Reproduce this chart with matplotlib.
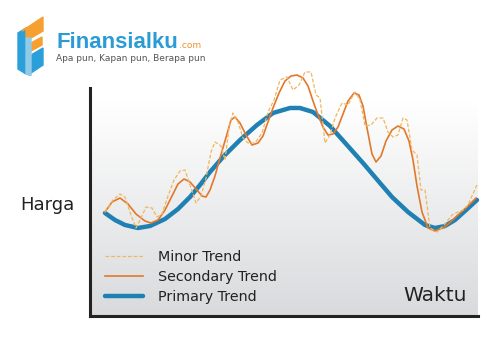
import matplotlib
matplotlib.use("Agg")
import matplotlib.pyplot as plt
import numpy as np
from matplotlib.patches import Polygon

# price path: time (0-388) vs price (0-228)
primary_t = [15, 25, 35, 48, 60, 75, 88, 100, 110, 120, 133, 150, 167, 183,
             200, 210, 223, 240, 257, 273, 290, 302, 318, 335, 345, 355, 365,
             375, 387]
primary_y = [103, 96, 91, 88, 90, 97, 107, 119, 131, 144, 159, 176, 191, 203,
             208, 208, 204, 190, 171, 153, 133, 119, 104, 91, 88, 90, 96,
             105, 116]

secondary_t = [15, 22, 30, 38, 46, 55, 61, 68, 75, 82, 88, 94, 100, 107, 112,
               116, 120, 125, 130, 137, 141, 145, 150, 156, 162, 168, 173,
               178, 183, 189, 195, 201, 207, 213, 218, 223, 228, 233, 238,
               243, 248, 253, 258, 264, 269, 273, 277, 282, 286, 291, 296,
               302, 308, 314, 319, 323, 327, 332, 338, 345, 355, 368, 380, 386]
secondary_y = [104, 114, 118, 112, 102, 95, 93, 96, 106, 120, 132, 137, 134,
               126, 120, 119, 126, 140, 158, 182, 196, 199, 193, 181, 171,
               173, 180, 194, 208, 223, 235, 240, 241, 238, 230, 215, 201,
               189, 181, 182, 189, 202, 215, 223, 221, 210, 188, 162, 154,
               160, 175, 186, 190, 187, 175, 156, 130, 104, 88, 85, 89, 101,
               112, 118]

minor_t = [15, 23, 30, 35, 41, 46, 51, 56, 62, 67, 72, 78, 84, 90, 95, 100,
           106, 111, 116, 121, 125, 131, 135, 139, 143, 148, 153, 158, 165,
           172, 178, 184, 190, 197, 203, 209, 215, 221, 226, 230, 235, 240,
           245, 252, 258, 265, 270, 275, 281, 287, 293, 298, 303, 308, 313,
           317, 322, 327, 331, 335, 340, 347, 355, 362, 368, 373, 378, 382,
           387]
minor_y = [104, 116, 122, 119, 101, 88, 98, 109, 108, 99, 102, 120, 136, 145,
           146, 131, 113, 120, 138, 164, 174, 170, 156, 188, 203, 194, 178,
           173, 173, 183, 204, 216, 236, 239, 226, 231, 244, 244, 221, 218,
           173, 181, 198, 213, 211, 224, 216, 190, 191, 198, 198, 184, 179,
           181, 198, 196, 166, 161, 126, 126, 88, 84, 92, 101, 104, 106, 111,
           120, 131]

labels = ["Minor Trend", "Secondary Trend", "Primary Trend"]

blue = "#1f80b3"
orange = "#e2782c"
minor_col = "#f2b65c"
ink = "#222222"

fig = plt.figure(figsize=(5.0, 3.37), dpi=100)
ax = fig.add_axes([90 / 500, 21 / 337, 388 / 500, 228 / 337])

# soft grey gradient behind the chart (white at the top)
grad = np.linspace(0, 1, 256).reshape(-1, 1)
top = np.array([1.0, 1.0, 1.0])
bot = np.array([0.85, 0.855, 0.865])
shade = np.clip((grad - 0.06) / 0.94, 0, 1)
img = top + (bot - top) * shade[..., None]
ax.imshow(img, extent=[0, 388, 0, 228], origin="upper", aspect="auto",
          zorder=0)
ax.set_xlim(0, 388)
ax.set_ylim(0, 228)

l3, = ax.plot(primary_t, primary_y, color=blue, lw=3.2, zorder=2,
              solid_capstyle="round", solid_joinstyle="round", clip_on=False)
l2, = ax.plot(secondary_t, secondary_y, color=orange, lw=1.2, zorder=3,
              solid_joinstyle="round", clip_on=False)
l1, = ax.plot(minor_t, minor_y, color=minor_col, lw=0.9, zorder=4,
              linestyle=(0, (3, 1.5)), clip_on=False)

for s in ["top", "right"]:
    ax.spines[s].set_visible(False)
for s in ["left", "bottom"]:
    ax.spines[s].set_color(ink)
    ax.spines[s].set_linewidth(2.2)
ax.set_xticks([])
ax.set_yticks([])

leg = ax.legend([l1, l2, l3], labels, loc="lower left",
                bbox_to_anchor=(15 / 388, 12 / 228), frameon=False,
                fontsize=10.3, handlelength=2.66, handletextpad=1.05,
                labelspacing=0.42, borderpad=0, borderaxespad=0)
for t in leg.get_texts():
    t.set_color(ink)

fig.text(20 / 500, 1 - 205 / 337, "Harga", fontsize=13, color=ink,
         va="center", ha="left")
fig.text(403 / 500, 1 - 301 / 337, "Waktu", fontsize=14.5, color=ink,
         va="baseline", ha="left")

# logo mark
lg = fig.add_axes([16 / 500, 1 - 76 / 337, 30 / 500, 61 / 337])
lg.set_xlim(16, 46)
lg.set_ylim(76, 15)
lg.axis("off")
logo_blue = "#2a9fd9"
logo_orange = "#f5a030"
lg.add_patch(Polygon([(18, 33), (26, 28), (26, 74), (18, 69)],
                     color=logo_blue))
lg.add_patch(Polygon([(22, 31), (43, 17), (43, 31), (31, 38), (26, 38),
                      (26, 28)], color=logo_orange))
lg.add_patch(Polygon([(31, 43), (42, 37), (42, 45), (31, 51)],
                     color=logo_orange))
lg.add_patch(Polygon([(31, 55), (43, 48), (43, 65), (31, 73)],
                     color=logo_blue))
lg.add_patch(Polygon([(26, 38), (31, 38), (31, 76), (26, 74)],
                     color="#8fcbe9"))

fig.text(56 / 500, 1 - 48 / 337, "Finansialku", fontsize=16,
         fontweight="bold", family="Liberation Sans", color="#2b9bd6",
         va="baseline", ha="left")
fig.text(179 / 500, 1 - 48 / 337, ".com", fontsize=6.5, color="#f0902a",
         va="baseline", ha="left")
fig.text(56 / 500, 1 - 61 / 337, "Apa pun, Kapan pun, Berapa pun",
         fontsize=6.5, color="#555555", va="baseline", ha="left")

fig.savefig("out.png", dpi=100)
